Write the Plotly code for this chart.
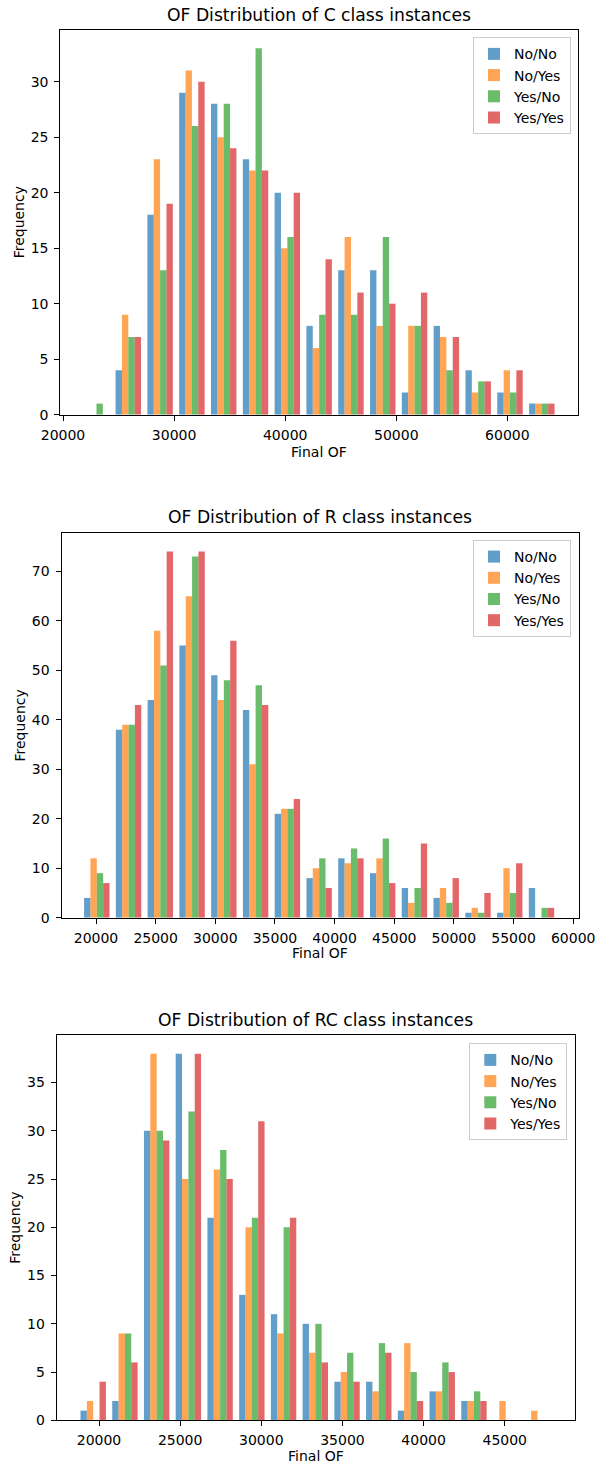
import numpy as np
import plotly.graph_objects as go

W, H = 597, 1467

series_names = ["No/No", "No/Yes", "Yes/No", "Yes/Yes"]
series_colors = ["#1f77b4", "#ff7f0e", "#2ca02c", "#d62728"]

# ---- C class ----
c_titles = "OF Distribution of C class instances"
c_bin_lo, c_bin_hi, c_nbins = 21583, 64529, 15
c_nono = [0, 4, 18, 29, 28, 23, 20, 8, 13, 13, 2, 8, 4, 2, 1]
c_noyes = [0, 9, 23, 31, 25, 22, 15, 6, 16, 8, 8, 7, 2, 4, 1]
c_yesno = [1, 7, 13, 26, 28, 33, 16, 9, 9, 16, 8, 4, 3, 2, 1]
c_yesyes = [0, 7, 19, 30, 24, 22, 20, 14, 11, 10, 11, 7, 3, 4, 1]
c_xticks = [20000, 30000, 40000, 50000, 60000]
c_yticks = [0, 5, 10, 15, 20, 25, 30]

# ---- R class ----
r_titles = "OF Distribution of R class instances"
r_bin_lo, r_bin_hi, r_nbins = 18736, 58674, 15
r_nono = [4, 38, 44, 55, 49, 42, 21, 8, 12, 9, 6, 4, 1, 1, 6]
r_noyes = [12, 39, 58, 65, 44, 31, 22, 10, 11, 12, 3, 6, 2, 10, 0]
r_yesno = [9, 39, 51, 73, 48, 47, 22, 12, 14, 16, 6, 3, 1, 5, 2]
r_yesyes = [7, 43, 74, 74, 56, 43, 24, 6, 12, 7, 15, 8, 5, 11, 2]
r_xticks = [20000, 25000, 30000, 35000, 40000, 45000, 50000, 55000, 60000]
r_yticks = [0, 10, 20, 30, 40, 50, 60, 70]

# ---- RC class ----
rc_titles = "OF Distribution of RC class instances"
rc_bin_lo, rc_bin_hi, rc_nbins = 18665, 47990, 15
rc_nono = [1, 2, 30, 38, 21, 13, 11, 10, 4, 4, 1, 3, 2, 0, 0]
rc_noyes = [2, 9, 38, 25, 26, 20, 9, 7, 5, 3, 8, 3, 2, 2, 1]
rc_yesno = [0, 9, 30, 32, 28, 21, 20, 10, 7, 8, 5, 6, 3, 0, 0]
rc_yesyes = [4, 6, 29, 38, 25, 31, 21, 6, 4, 7, 2, 5, 2, 0, 0]
rc_xticks = [20000, 25000, 30000, 35000, 40000, 45000]
rc_yticks = [0, 5, 10, 15, 20, 25, 30, 35]

FONT = "DejaVu Sans"


def px_x(p):
    return p / W


def px_y(p):
    return 1 - p / H


panels = [
    dict(title=c_titles, lo=c_bin_lo, hi=c_bin_hi, n=c_nbins,
         data=[c_nono, c_noyes, c_yesno, c_yesyes], xticks=c_xticks, yticks=c_yticks,
         box=(60.3, 578.3, 30.0, 414.7), xr=[19757, 66383], ymax=34.65,
         title_y=15, xlab_y=452, ylab_x=19, leg=(571, 37.3)),
    dict(title=r_titles, lo=r_bin_lo, hi=r_bin_hi, n=r_nbins,
         data=[r_nono, r_noyes, r_yesno, r_yesyes], xticks=r_xticks, yticks=r_yticks,
         box=(61.5, 579.3, 533.3, 917.7), xr=[17108, 60512], ymax=77.7,
         title_y=517, xlab_y=953, ylab_x=19, leg=(571, 540)),
    dict(title=rc_titles, lo=rc_bin_lo, hi=rc_bin_hi, n=rc_nbins,
         data=[rc_nono, rc_noyes, rc_yesno, rc_yesyes], xticks=rc_xticks, yticks=rc_yticks,
         box=(56.7, 575.0, 1035.3, 1420.3), xr=[17394, 49328], ymax=39.9,
         title_y=1020, xlab_y=1456, ylab_x=15, leg=(567.3, 1043.3)),
]

fig = go.Figure()
annotations = []
layout_axes = {}

for i, p in enumerate(panels):
    k = "" if i == 0 else str(i + 1)
    edges = np.linspace(p["lo"], p["hi"], p["n"] + 1)
    centers = (edges[:-1] + edges[1:]) / 2
    legname = "legend" if i == 0 else f"legend{i + 1}"
    for name, color, vals in zip(series_names, series_colors, p["data"]):
        fig.add_trace(go.Bar(
            x=centers, y=vals, name=name,
            marker=dict(color=color, line=dict(width=0)),
            opacity=0.7, xaxis="x" + k, yaxis="y" + k,
            legend=legname, showlegend=True,
        ))
    l, r, t, b = p["box"]
    axis_common = dict(showline=True, linecolor="black", linewidth=1, mirror=True,
                       ticks="outside", ticklen=5, tickwidth=1, tickcolor="black",
                       showgrid=False, zeroline=False, automargin=False,
                       tickfont=dict(family=FONT, size=14, color="black"))
    layout_axes["xaxis" + k] = dict(domain=[px_x(l), px_x(r)], range=p["xr"],
                                    anchor="y" + k, tickvals=p["xticks"],
                                    ticktext=[str(v) for v in p["xticks"]],
                                    ticklabelstandoff=2, **axis_common)
    layout_axes["yaxis" + k] = dict(domain=[px_y(b), px_y(t)], range=[0, p["ymax"]],
                                    anchor="x" + k, tickvals=p["yticks"],
                                    ticktext=[str(v) for v in p["yticks"]],
                                    ticklabelstandoff=3, **axis_common)
    layout_axes[legname] = dict(
        x=px_x(p["leg"][0]), y=px_y(p["leg"][1]), xref="paper", yref="paper",
        xanchor="right", yanchor="top", bgcolor="rgba(255,255,255,0.8)",
        bordercolor="#cccccc", borderwidth=1,
        font=dict(family=FONT, size=14, color="black"),
    )
    cx = (l + r) / 2
    annotations.append(dict(text=p["title"], x=px_x(cx), y=px_y(p["title_y"]),
                            xref="paper", yref="paper", showarrow=False,
                            xanchor="center", yanchor="middle",
                            font=dict(family=FONT, size=17.2, color="black")))
    annotations.append(dict(text="Final OF", x=px_x(cx), y=px_y(p["xlab_y"]),
                            xref="paper", yref="paper", showarrow=False,
                            xanchor="center", yanchor="middle",
                            font=dict(family=FONT, size=14, color="black")))
    annotations.append(dict(text="Frequency", x=px_x(p["ylab_x"]), y=px_y((t + b) / 2),
                            xref="paper", yref="paper", showarrow=False, textangle=-90,
                            xanchor="center", yanchor="middle",
                            font=dict(family=FONT, size=14, color="black")))

fig.update_layout(
    width=W, height=H, margin=dict(l=0, r=0, t=0, b=0, autoexpand=False),
    paper_bgcolor="white", plot_bgcolor="white",
    barmode="group", bargap=0.2, bargroupgap=0,
    font=dict(family=FONT, size=14, color="black"),
    annotations=annotations,
    **layout_axes,
)

fig.write_html("out.html", config={"displayModeBar": False},
               post_script="document.body.style.margin='0';")
